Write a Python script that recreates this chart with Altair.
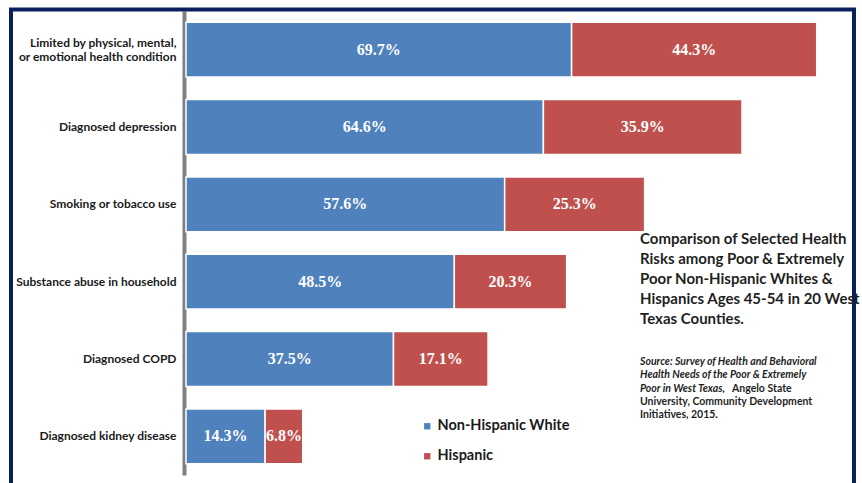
import altair as alt
import pandas as pd

categories = [
    "Limited by physical, mental,\nor emotional health condition",
    "Diagnosed depression",
    "Smoking or tobacco use",
    "Substance abuse in household",
    "Diagnosed COPD",
    "Diagnosed kidney disease",
]
white_vals = [69.7, 64.6, 57.6, 48.5, 37.5, 14.3]
hisp_vals = [44.3, 35.9, 25.3, 20.3, 17.1, 6.8]
series = ["Non-Hispanic White", "Hispanic"]
colors = ["#4f81bd", "#c0504d"]

title_lines = [
    "Comparison of Selected Health",
    "Risks among Poor & Extremely",
    "Poor Non-Hispanic Whites &",
    "Hispanics Ages 45-54 in 20 West",
    "Texas Counties.",
]
source_italic = [
    "Source: Survey of Health and Behavioral",
    "Health  Needs of the Poor & Extremely",
    "Poor  in West Texas,",
]
source_normal_tail = "Angelo State"
source_normal = [
    "University, Community  Development",
    "Initiatives,  2015.",
]

rows = []
for c, w, h in zip(categories, white_vals, hisp_vals):
    rows.append({"cat": c, "series": series[0], "start": 0, "end": w, "val": w, "order": 0})
    rows.append({"cat": c, "series": series[1], "start": w, "end": w + h, "val": h, "order": 1})
df = pd.DataFrame(rows)
df["mid"] = (df["start"] + df["end"]) / 2
df["label"] = df["val"].map(lambda v: f"{v:.1f}%")

W, H = 665, 464
LEFT, TOP = 186, 11
FONT = "Lato"

y_enc = alt.Y(
    "cat:N",
    sort=categories,
    scale=alt.Scale(paddingInner=0.29, paddingOuter=0.145),
    axis=alt.Axis(
        title=None,
        ticks=False,
        domainColor="#808080",
        domainWidth=4,
        offset=2,
        labelPadding=8,
        labelFont=FONT,
        labelFontSize=12,
        labelFontWeight="bold",
        labelColor="#1a1a1a",
        labelLineHeight=14,
        labelLimit=0,
        labelOffset={"condition": {"test": "indexof(datum.value, 'Limited') == 0", "value": -7}, "value": 0},
        labelExpr="split(datum.label, '\\n')",
    ),
)
x_scale = alt.Scale(domain=[0, 120.2], nice=False, zero=True)

base = alt.Chart(df)

bars = base.mark_bar(stroke="white", strokeWidth=1.5).encode(
    y=y_enc,
    x=alt.X("start:Q", scale=x_scale, axis=None),
    x2="end:Q",
    color=alt.Color(
        "series:N",
        scale=alt.Scale(domain=series, range=colors),
        legend=alt.Legend(
            title=None,
            orient="none",
            legendX=234,
            legendY=408,
            symbolType="square",
            symbolSize=40,
            symbolStrokeWidth=0,
            labelFont=FONT,
            labelFontSize=14.5,
            labelFontWeight="bold",
            labelColor="#1a1a1a",
            labelOffset=3,
            rowPadding=15,
            symbolOffset=0,
        ),
    ),
    order="order:Q",
)

labels = base.mark_text(
    color="white", font="Liberation Serif", fontSize=16, fontWeight="bold"
).encode(
    y=alt.Y("cat:N", sort=categories),
    x=alt.X("mid:Q", scale=x_scale),
    text="label:N",
)

one = pd.DataFrame({"k": [0]})

frame = alt.Chart(one).mark_rect(
    filled=False, stroke="#0b1f5e", strokeWidth=4, clip=False
).encode(
    x=alt.value(-175), x2=alt.value(668), y=alt.value(-1.5), y2=alt.value(480)
)

title_txt = alt.Chart(one).mark_text(
    align="left", baseline="top", font=FONT, fontSize=15, fontWeight="bold",
    color="#1f1f1f", lineHeight=20,
).encode(x=alt.value(454), y=alt.value(221), text=alt.value(title_lines))

SRC_Y = 346
SRC_LH = 13.3
SRC_FS = 10.5
src_it = alt.Chart(one).mark_text(
    align="left", baseline="top", font=FONT, fontSize=SRC_FS, fontWeight="bold",
    fontStyle="italic", color="#1f1f1f", lineHeight=SRC_LH,
).encode(x=alt.value(454), y=alt.value(SRC_Y), text=alt.value(source_italic))

src_tail = alt.Chart(one).mark_text(
    align="left", baseline="top", font=FONT, fontSize=SRC_FS, fontWeight="bold",
    color="#1f1f1f",
).encode(x=alt.value(546), y=alt.value(SRC_Y + 2 * SRC_LH), text=alt.value(source_normal_tail))

src_norm = alt.Chart(one).mark_text(
    align="left", baseline="top", font=FONT, fontSize=SRC_FS, fontWeight="bold",
    color="#1f1f1f", lineHeight=SRC_LH,
).encode(x=alt.value(454), y=alt.value(SRC_Y + 3 * SRC_LH), text=alt.value(source_normal))

chart = alt.layer(bars, labels, frame, title_txt, src_it, src_tail, src_norm).properties(
    width=W,
    height=H,
    autosize=alt.AutoSizeParams(type="none"),
    padding={"left": LEFT, "top": TOP, "right": 862 - LEFT - W, "bottom": 483 - TOP - H},
    background="white",
).configure_view(stroke=None)

chart.save("out.html", embed_options={"renderer": "svg", "actions": False})
